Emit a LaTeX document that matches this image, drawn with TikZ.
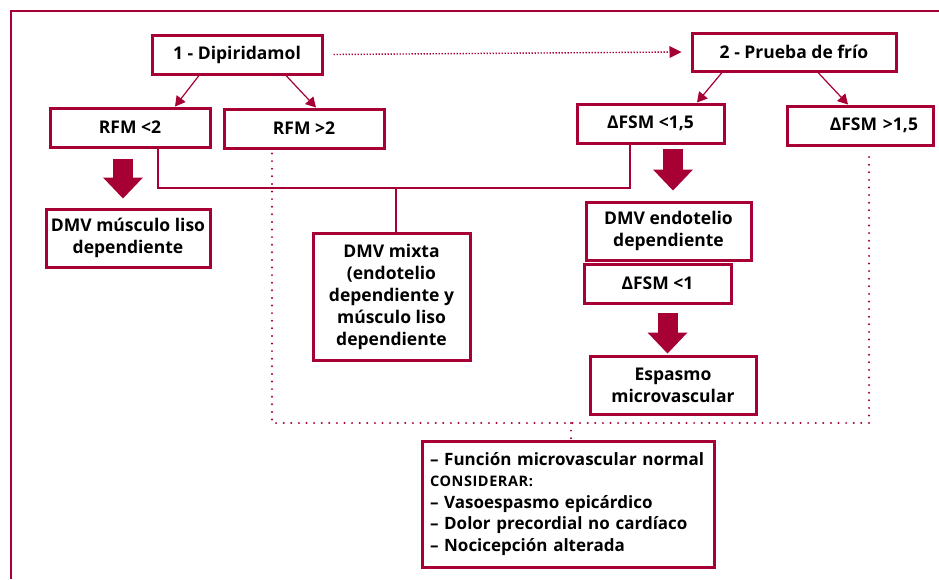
\documentclass[tikz,border=0pt]{standalone}
\usepackage{fontspec}
\setmainfont{Open Sans}
\usetikzlibrary{arrows.meta,positioning,calc}

\definecolor{granate}{RGB}{166,0,52}

\tikzset{
    caja/.style={draw=granate, line width=3pt, fill=white, inner sep=0pt,
        align=center, font=\bfseries\fontsize{17.5}{22}\selectfont},
    flecha/.style={draw=granate, line width=1.2pt, -{Triangle[length=10pt,width=11pt]}},
    gruesa/.style={draw=granate, line width=20pt,
        -{Triangle[length=21pt,width=40pt,line width=0pt]}},
    linea/.style={draw=granate, line width=1.2pt},
    puntos/.style={draw=granate, line width=2.2pt, line cap=round, dash pattern=on 0pt off 7.6pt},
    puntitos/.style={draw=granate, line width=1.4pt, dash pattern=on 1.4pt off 1.6pt,
        -{Triangle[length=12pt,width=12pt,line width=0pt]}}
}

\begin{document}
\begin{tikzpicture}[x=1pt,y=-1pt]
    \useasboundingbox (0,0) rectangle (939,579);

    % marco
    \draw[granate, line width=2pt] (11,579) -- (11,11) -- (939,11);

    % pruebas
    \node[caja, minimum width=170pt, minimum height=39pt] (dipi) at (237,54.5) {1 - Dipiridamol};
    \node[caja, minimum width=204pt, minimum height=38pt] (frio) at (794,52) {2 - Prueba de frío};

    \node[caja, minimum width=160pt, minimum height=39pt] (rfmmenor) at (130,127.5) {RFM <2};
    \node[caja, minimum width=160pt, minimum height=39pt] (rfmmayor) at (304,128.5) {RFM >2};
    \node[caja, minimum width=147pt, minimum height=39pt] (fsmmenor) at (650.5,123.5) {ΔFSM <1,5};
    \node[caja, minimum width=146pt, minimum height=39pt, text width=116pt, align=right]
        (fsmmayor) at (860,125.5) {ΔFSM >1,5};

    % resultados
    \node[caja, minimum width=164pt, minimum height=58pt] (dmvml) at (128,238) {DMV músculo liso\\dependiente};
    \node[caja, minimum width=157pt, minimum height=127pt] (mixta) at (391.5,296.5)
        {DMV mixta\\(endotelio\\dependiente y\\músculo liso\\dependiente};
    \node[caja, minimum width=165pt, minimum height=58pt] (endo) at (668.5,231) {DMV endotelio\\dependiente};
    \node[caja, minimum width=147pt, minimum height=39pt] (fsmuno) at (657.5,283.5) {ΔFSM <1};
    \node[caja, minimum width=166pt, minimum height=58pt] (espasmo) at (673,385) {Espasmo\\microvascular};
    \node[caja, minimum width=292pt, minimum height=126pt, align=left, text width=276pt,
        font=\bfseries\fontsize{17}{21.5}\selectfont] (final) at (568,504)
        {– Función microvascular normal\\
         {\fontsize{14.5}{21.5}\selectfont\addfontfeatures{LetterSpace=4}CONSIDERAR:}\\
         – Vasoespasmo epicárdico\\
         – Dolor precordial no cardíaco\\
         – Nocicepción alterada};

    % flechas finas
    \draw[flecha] ([xshift=-38pt]dipi.south) -- ([xshift=45pt]rfmmenor.north);
    \draw[flecha] ([xshift=49pt]dipi.south) -- ([xshift=12pt]rfmmayor.north);
    \draw[flecha] ([xshift=-72pt]frio.south) -- ([xshift=46.5pt]fsmmenor.north);
    \draw[flecha] ([xshift=24pt]frio.south) -- ([xshift=-12pt]fsmmayor.north);
    \draw[puntitos] ([xshift=10pt]dipi.east) -- ([xshift=-9pt]frio.west);

    % flechas gruesas
    \draw[gruesa] ([xshift=-7pt,yshift=-10pt]rfmmenor.south) -- ([xshift=-5pt,yshift=9pt]dmvml.north);
    \draw[gruesa] ([xshift=22.5pt,yshift=-4pt]fsmmenor.south) -- ([xshift=4.5pt,yshift=10pt]endo.north);
    \draw[gruesa] ([xshift=10pt,yshift=-8pt]fsmuno.south) -- ([xshift=-5.5pt,yshift=1pt]espasmo.north);

    % uniones
    \coordinate (union) at (396,188);
    \draw[linea] ([xshift=28pt]rfmmenor.south) |- (union) -| ([xshift=-20.5pt]fsmmenor.south);
    \draw[linea] (union) -- (union |- mixta.north);

    \coordinate (reunion) at (571,423);
    \draw[puntos] ([xshift=-32pt,yshift=-4pt]rfmmayor.south) |- (reunion) -| ([xshift=9pt,yshift=-5pt]fsmmayor.south);
    \draw[puntos] (reunion) -- (reunion |- final.north);
\end{tikzpicture}
\end{document}
